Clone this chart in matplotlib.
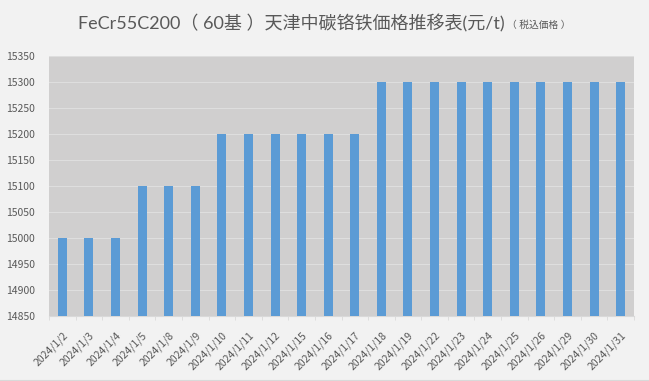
import matplotlib
matplotlib.use("Agg")
import matplotlib.pyplot as plt
from matplotlib.lines import Line2D
import numpy as np

plt.rcParams['font.family'] = ['Noto Sans CJK JP', 'DejaVu Sans']

dates = ["2024/1/2", "2024/1/3", "2024/1/4", "2024/1/5", "2024/1/8", "2024/1/9",
         "2024/1/10", "2024/1/11", "2024/1/12", "2024/1/15", "2024/1/16", "2024/1/17",
         "2024/1/18", "2024/1/19", "2024/1/22", "2024/1/23", "2024/1/24", "2024/1/25",
         "2024/1/26", "2024/1/29", "2024/1/30", "2024/1/31"]
prices = [15000, 15000, 15000, 15100, 15100, 15100,
          15200, 15200, 15200, 15200, 15200, 15200,
          15300, 15300, 15300, 15300, 15300, 15300,
          15300, 15300, 15300, 15300]
yticks = list(range(14850, 15351, 50))

fig = plt.figure(figsize=(6.49, 3.81), dpi=100, facecolor='#f2f2f2')
ax = fig.add_axes([49/649, 1-316/381, (634-49)/649, (316-56)/381])
ax.set_facecolor('#d0cfcf')

x = np.arange(len(dates))
ax.bar(x, prices, width=0.34, color='#5b9bd5', zorder=3)
ax.set_ylim(14850, 15350)
ax.set_xlim(-0.5, len(dates) - 0.5)
ax.set_yticks(yticks)
ax.set_yticklabels([str(v) for v in yticks], fontsize=7.5, color='#595959')
ax.yaxis.grid(True, color='#dedede', linewidth=0.8, zorder=0)
ax.set_axisbelow(True)
ax.tick_params(axis='y', length=0, pad=10)
ax.set_xticks(x)
ax.set_xticklabels(dates, rotation=45, ha='right', rotation_mode='anchor',
                   fontsize=7.5, color='#595959')
ax.set_xticks(np.arange(-0.5, len(dates), 1), minor=True)
ax.tick_params(axis='x', which='major', length=0, pad=10)
ax.tick_params(axis='x', which='minor', length=3, color='#d9d9d9')
for s in ['top', 'right', 'left']:
    ax.spines[s].set_visible(False)
ax.spines['bottom'].set_color('#d9d9d9')

tfam = ['Lato', 'Noto Sans CJK JP']
t1 = fig.text(78/649, 1-23/381, "FeCr55C200（ 60基 ）天津中碳铬铁価格推移表(元/t)",
              fontsize=13, color='#595959', ha='left', va='center', family=tfam)
fig.canvas.draw()
bb = t1.get_window_extent()
fig.text((bb.x1 + 2)/649, 1-25/381, "（ 税込価格 ）", fontsize=7, color='#595959',
         ha='left', va='center', family=tfam)

fig.add_artist(Line2D([0, 1], [0.5/381, 0.5/381], transform=fig.transFigure,
                      color='#d9d9d9', linewidth=1.5))

fig.savefig('out.png', dpi=100, facecolor=fig.get_facecolor())
